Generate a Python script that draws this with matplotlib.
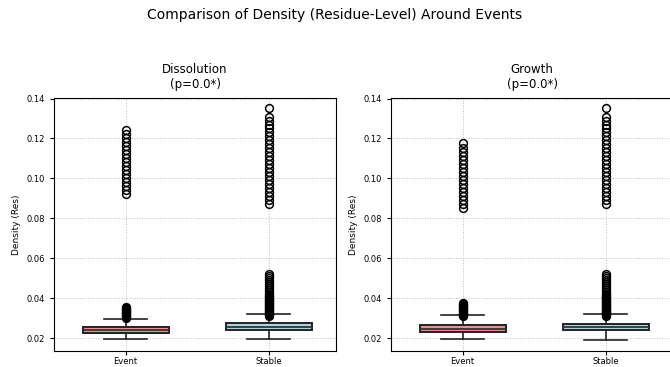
import matplotlib
matplotlib.use('Agg')
from matplotlib import pyplot as plt

# Box statistics (density per residue)
groups = ['Event', 'Stable']
panel_titles = ['Dissolution\n(p=0.0*)', 'Growth\n(p=0.0*)']

diss_event_box = dict(whislo=0.0196, q1=0.0225, med=0.0240, q3=0.0257, whishi=0.0294)
diss_stable_box = dict(whislo=0.0196, q1=0.0242, med=0.0256, q3=0.0274, whishi=0.0320)
grow_event_box = dict(whislo=0.0197, q1=0.0230, med=0.0248, q3=0.0268, whishi=0.0316)
grow_stable_box = dict(whislo=0.0193, q1=0.0240, med=0.0255, q3=0.0272, whishi=0.0320)

# outliers
diss_event_fliers = [0.0300, 0.0305, 0.0310, 0.0315, 0.0320, 0.0325, 0.0330, 0.0335, 0.0340, 0.0345,
                     0.0350, 0.0355,
                     0.0920, 0.0940, 0.0960, 0.0980, 0.1000, 0.1020, 0.1040, 0.1060, 0.1080,
                     0.1100, 0.1120, 0.1140, 0.1160, 0.1180, 0.1200, 0.1220, 0.1240]
diss_stable_fliers = [0.0310, 0.0315, 0.0320, 0.0325, 0.0330, 0.0335, 0.0340, 0.0345, 0.0350, 0.0355,
                      0.0360, 0.0365, 0.0370, 0.0375, 0.0380, 0.0385, 0.0390, 0.0395, 0.0400, 0.0405,
                      0.0410, 0.0415, 0.0420, 0.0430, 0.0440, 0.0450, 0.0460, 0.0470, 0.0480, 0.0490,
                      0.0500, 0.0510, 0.0520,
                      0.0872, 0.0890, 0.0910, 0.0930, 0.0950, 0.0970, 0.0990, 0.1010, 0.1030, 0.1050,
                      0.1070, 0.1090, 0.1110, 0.1130, 0.1150, 0.1170, 0.1190, 0.1210, 0.1230, 0.1250,
                      0.1270, 0.1290, 0.1310, 0.1355]
grow_event_fliers = [0.0310, 0.0315, 0.0320, 0.0325, 0.0330, 0.0335, 0.0340, 0.0345, 0.0350, 0.0355,
                     0.0360, 0.0365, 0.0370, 0.0375,
                     0.0850, 0.0870, 0.0890, 0.0910, 0.0930, 0.0950, 0.0970, 0.0990, 0.1010, 0.1030,
                     0.1050, 0.1070, 0.1090, 0.1110, 0.1130, 0.1150, 0.1175]
grow_stable_fliers = diss_stable_fliers

panels = [[(diss_event_box, diss_event_fliers), (diss_stable_box, diss_stable_fliers)],
          [(grow_event_box, grow_event_fliers), (grow_stable_box, grow_stable_fliers)]]
box_colors = ['#f28b8b', '#a9d4e2']

fig = plt.figure(figsize=(6.7, 3.67), dpi=100)
fig.suptitle('Comparison of Density (Residue-Level) Around Events', fontsize=10, y=0.978)

# right panel runs off the edge like in the original crop
ax_lefts = [0.0806, 0.5836]
for i in range(2):
    ax = fig.add_axes([ax_lefts[i], 0.0436, 0.421, 0.689])
    stats = []
    for (box, fl), name in zip(panels[i], groups):
        s = dict(box)
        s['fliers'] = fl
        s['label'] = name
        stats.append(s)
    bp = ax.bxp(stats, positions=[1, 2], widths=0.6, patch_artist=True,
                boxprops=dict(edgecolor='#222222', linewidth=1.4),
                medianprops=dict(color='#333333', linewidth=1.3),
                whiskerprops=dict(color='#222222', linewidth=1.2),
                capprops=dict(color='#222222', linewidth=1.2),
                flierprops=dict(marker='o', markerfacecolor='none', markeredgecolor='black',
                                markersize=5.6, markeredgewidth=1.1))
    for patch, c in zip(bp['boxes'], box_colors):
        patch.set_facecolor(c)
    ax.set_xlim(0.5, 2.47)
    ax.set_ylim(0.0136, 0.1402)
    ax.set_title(panel_titles[i], fontsize=8.5, pad=7)
    ax.set_ylabel('Density (Res)', fontsize=6.5)
    ax.tick_params(labelsize=6, length=3)
    ax.tick_params(axis='x', pad=1.5)
    ax.set_yticks([0.02, 0.04, 0.06, 0.08, 0.10, 0.12, 0.14])
    ax.grid(True, linestyle=':', color='#bbbbbb', linewidth=0.7)
    ax.set_axisbelow(True)

plt.savefig('out.png', dpi=100)
